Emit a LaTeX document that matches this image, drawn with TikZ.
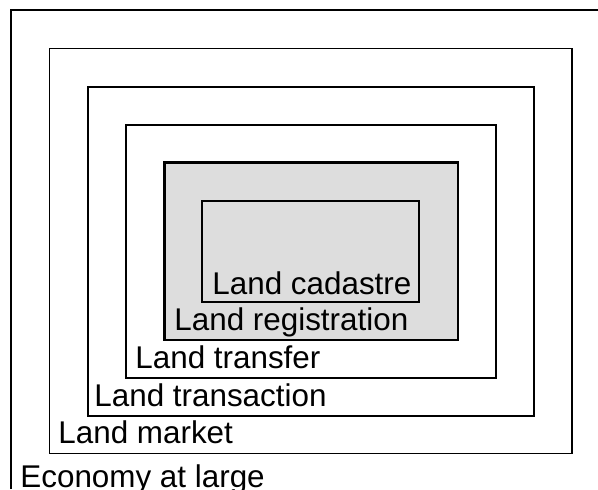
\documentclass[tikz,border=0pt]{standalone}
\usepackage{fontspec}
\setmainfont{Liberation Sans}
\usetikzlibrary{positioning}
\definecolor{regfill}{HTML}{DDDDDD}
\tikzset{
    layer/.style={draw=black, line width=0.6pt},
    core/.style={draw=black, line width=1.3pt, fill=regfill},
    layerlabel/.style={anchor=base west, inner sep=0pt, font=\fontsize{15.7}{18}\selectfont}
}

\begin{document}
\begin{tikzpicture}[x=0.5pt, y=-0.5pt]
    \useasboundingbox (0,0) rectangle (598,489);

    % Outermost layer runs off the page
    \draw[layer] (11,489) -- (11,10) -- (598,10);

    % Nested layers
    \draw[layer] (49.5,48.5) rectangle (572,453.5);
    \draw[layer] (88,87) rectangle (534,416);
    \draw[layer] (126,125) rectangle (496,378);
    \draw[core]  (164.5,162.5) rectangle (458,340);
    \draw[layer, line width=0.9pt] (202,201) rectangle (419,302);

    % Labels
    \node[layerlabel] (economy)      at (20,487)  {Economy at large};
    \node[layerlabel] (market)       at (58,443)  {Land market};
    \node[layerlabel] (transaction)  at (94,406)  {Land transaction};
    \node[layerlabel] (transfer)     at (135,368) {Land transfer};
    \node[layerlabel] (registration) at (174,330) {Land registration};
    \node[layerlabel] (cadastre)     at (212,294) {Land cadastre};
\end{tikzpicture}
\end{document}
